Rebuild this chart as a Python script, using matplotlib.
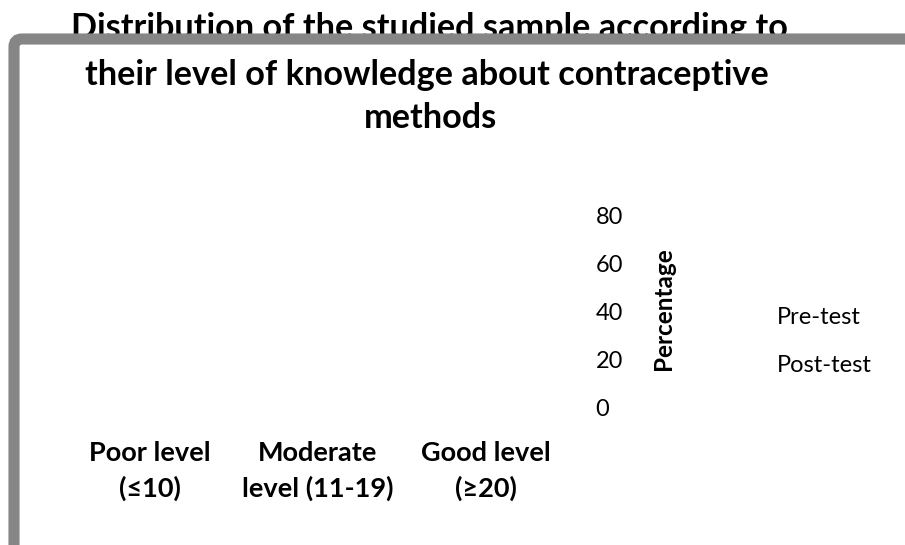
import matplotlib
matplotlib.use("Agg")
import matplotlib.pyplot as plt
from matplotlib.patches import FancyBboxPatch

# chart content (no bars are drawn in the reference, only the frame and texts)
categories = ["Poor level\n(\u226410)", "Moderate\nlevel (11-19)", "Good level\n(\u226520)"]
series_names = ["Pre-test", "Post-test"]
y_ticks = [0, 20, 40, 60, 80]
title_lines = ["Distribution of the studied sample according to",
               "their level of knowledge about contraceptive",
               "methods"]
y_label = "Percentage"

plt.rcParams['font.family'] = ['Lato', 'DejaVu Sans']

W, H = 905, 545
fig = plt.figure(figsize=(W / 100, H / 100), dpi=100)
fig.patch.set_facecolor("white")

def px(x, y):
    # pixel coords (from top-left) to figure fraction
    return x / W, 1 - y / H

# first title line sits behind the frame
fig.text(*px(429, 38), title_lines[0], ha="center", va="baseline",
         fontsize=24.7, fontweight="bold", zorder=1)

# grey rounded frame with white inside
frame = FancyBboxPatch((14 / 100, -0.3), 10.0, (H - 39) / 100 + 0.3,
                       boxstyle="round,pad=0,rounding_size=0.08",
                       transform=fig.dpi_scale_trans, facecolor="white",
                       edgecolor="#868686", linewidth=8, zorder=2)
fig.patches.append(frame)

fig.text(*px(427, 85), title_lines[1], ha="center", va="baseline",
         fontsize=24.7, fontweight="bold", zorder=3)
fig.text(*px(430, 128), title_lines[2], ha="center", va="baseline",
         fontsize=24.7, fontweight="bold", zorder=3)

# axes: y=0 at 408 px, y=80 at 216 px
left, right = 66 / W, 570 / W
bottom = (H - 408) / H
top = (H - 216) / H
ax = fig.add_axes([left, bottom, right - left, top - bottom], zorder=4)
ax.set_facecolor("none")
ax.set_ylim(0, 80)
ax.set_xlim(-0.5, len(categories) - 0.5)
for s in ax.spines.values():
    s.set_visible(False)

ax.yaxis.tick_right()
ax.set_yticks(y_ticks)
ax.set_yticklabels([str(v) for v in y_ticks], fontsize=17)
ax.tick_params(axis="y", length=0, pad=18.5)

ax.set_xticks(range(len(categories)))
ax.set_xticklabels(categories, fontsize=19.5, fontweight="bold", linespacing=1.5)
ax.tick_params(axis="x", length=0, pad=24)

fig.text(*px(663, 309), y_label, rotation=90, ha="center", va="center",
         fontsize=17.5, fontweight="bold", zorder=5)

for i, name in enumerate(series_names):
    fig.text(*px(777, 317 + 49 * i), name, ha="left", va="center",
             fontsize=17, zorder=5)

fig.savefig("out.png", dpi=100, facecolor="white")
